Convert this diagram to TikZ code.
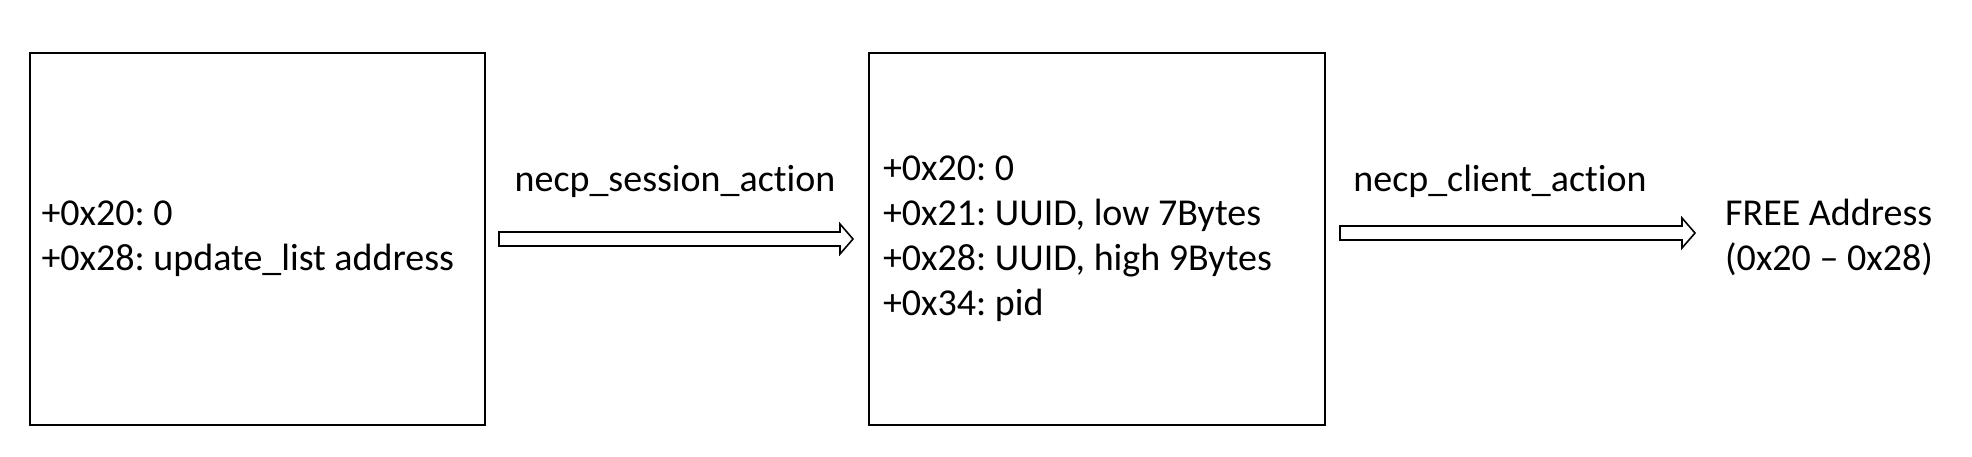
\documentclass[tikz,border=0pt]{standalone}
\usepackage{fontspec}
\setmainfont{Carlito}[Ligatures=NoCommon]
\usetikzlibrary{calc}
\tikzset{
  memblock/.style={draw, rectangle, line width=2pt, align=flush left, inner xsep=12pt,
    minimum height=372pt, font=\fontsize{38}{45}\selectfont\frenchspacing},
  txt/.style={inner sep=0pt, font=\fontsize{38}{45}\selectfont\frenchspacing},
  fatarrow/.style={draw, line width=1.6pt, line join=miter, to path={
    ($(\tikztostart)+(0,7)$) -- ($(\tikztotarget)+(-13,7)$) -- ($(\tikztotarget)+(-13,15)$)
    -- (\tikztotarget) -- ($(\tikztotarget)+(-13,-15)$) -- ($(\tikztotarget)+(-13,-7)$)
    -- ($(\tikztostart)+(0,-7)$) -- cycle}}
}
\begin{document}
\begin{tikzpicture}[x=1pt, y=-1pt]
  \useasboundingbox (0,0) rectangle (1972,456);

  % first object
  \node[memblock, text width=431pt, minimum width=455pt] (before) at (257,239)
    {+0x20: 0\\+0x28: update\_list address};

  % session action
  \coordinate (s1) at (499,239);
  \coordinate (e1) at (853,239);
  \draw[fatarrow] (s1) to (e1);
  \node[txt, anchor=base] (session) at (675,191) {necp\_session\_action};

  % second object
  \node[memblock, text width=428pt, inner xsep=14pt, minimum width=456pt] (after) at (1097,239)
    {+0x20: 0\\+0x21: UUID, low 7Bytes\\+0x28: UUID, high 9Bytes\\+0x34: pid};

  % client action
  \coordinate (s2) at (1340,233);
  \coordinate (e2) at (1695,233);
  \draw[fatarrow] (s2) to (e2);
  \node[txt, anchor=base] (client) at (1500,191) {necp\_client\_action};

  % freed memory
  \node[txt, align=flush left, anchor=west] (freed) at (1725,237) {FREE Address\\(0x20 – 0x28)};
\end{tikzpicture}
\end{document}
